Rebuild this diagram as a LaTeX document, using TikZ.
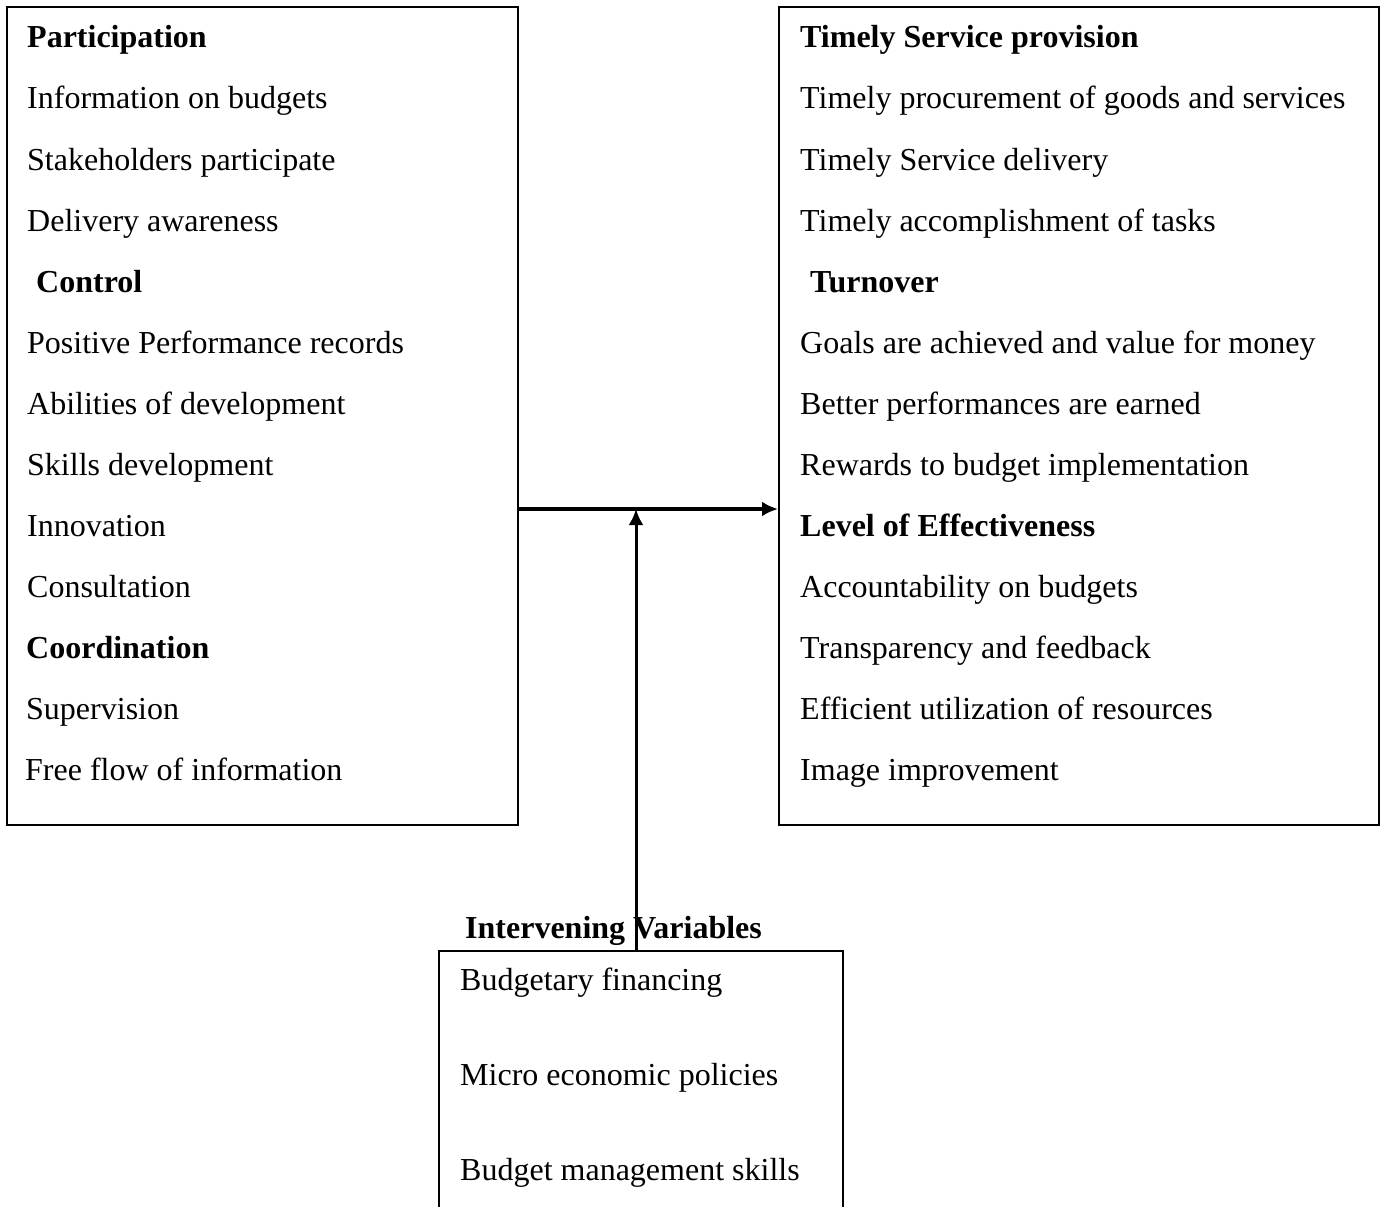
\documentclass[tikz,border=0pt]{standalone}
\usepackage{fontspec}
\setmainfont{Liberation Serif}
\usetikzlibrary{arrows.meta}
\begin{document}
\begin{tikzpicture}[x=1pt,y=-1pt,
  frame/.style={draw,line width=2pt,inner sep=0pt},
  txt/.style={anchor=base west,inner sep=0pt,font=\fontsize{32}{38}\selectfont},
  hd/.style={anchor=base west,inner sep=0pt,font=\fontsize{32}{38}\selectfont\bfseries},
  conn/.style={line width=3.5pt,-{Latex[length=16pt,width=15pt]}}]
\useasboundingbox (0,0) rectangle (1382,1207);
% boxes
\node[frame,minimum width=511pt,minimum height=818pt] (L) at (262.5,416) {};
\node[frame,minimum width=600pt,minimum height=818pt] (R) at (1079,416) {};
\node[frame,minimum width=404pt,minimum height=270pt] (B) at (641,1086) {};
% left texts
\node[hd]  (l1)  at (27,48)   {Participation};
\node[txt] (l2)  at (27,109)  {Information on budgets};
\node[txt] (l3)  at (27,170)  {Stakeholders participate};
\node[txt] (l4)  at (27,231)  {Delivery awareness};
\node[hd]  (l5)  at (36,292)  {Control};
\node[txt] (l6)  at (27,353)  {Positive Performance records};
\node[txt] (l7)  at (27,414)  {Abilities of development};
\node[txt] (l8)  at (27,475)  {Skills development};
\node[txt] (l9)  at (27,536)  {Innovation};
\node[txt] (l10) at (27,597)  {Consultation};
\node[hd]  (l11) at (26,658)  {Coordination};
\node[txt] (l12) at (26,719)  {Supervision};
\node[txt] (l13) at (25,780)  {Free flow of information};
% right texts
\node[hd]  (r1)  at (800,48)  {Timely Service provision};
\node[txt] (r2)  at (800,109) {Timely procurement of goods and services};
\node[txt] (r3)  at (800,170) {Timely Service delivery};
\node[txt] (r4)  at (800,231) {Timely accomplishment of tasks};
\node[hd]  (r5)  at (810,292) {Turnover};
\node[txt] (r6)  at (800,353) {Goals are achieved and value for money};
\node[txt] (r7)  at (800,414) {Better performances are earned};
\node[txt] (r8)  at (800,475) {Rewards to budget implementation};
\node[hd]  (r9)  at (800,536) {Level of Effectiveness};
\node[txt] (r10) at (800,597) {Accountability on budgets};
\node[txt] (r11) at (800,658) {Transparency and feedback};
\node[txt] (r12) at (800,719) {Efficient utilization of resources};
\node[txt] (r13) at (800,780) {Image improvement};
% bottom
\node[hd]  (bt) at (465,938)  {Intervening Variables};
\node[txt] (b1) at (460,990)  {Budgetary financing};
\node[txt] (b2) at (460,1085) {Micro economic policies};
\node[txt] (b3) at (460,1180) {Budget management skills};
% connectors
\coordinate (h) at (0,509);
\coordinate (v) at (636,0);
\draw[conn] (L.east |- h) -- (R.west |- h);
\draw[line width=3pt,-{Latex[length=16pt,width=15pt]}] (B.north -| v) -- (v |- h);
\end{tikzpicture}
\end{document}
